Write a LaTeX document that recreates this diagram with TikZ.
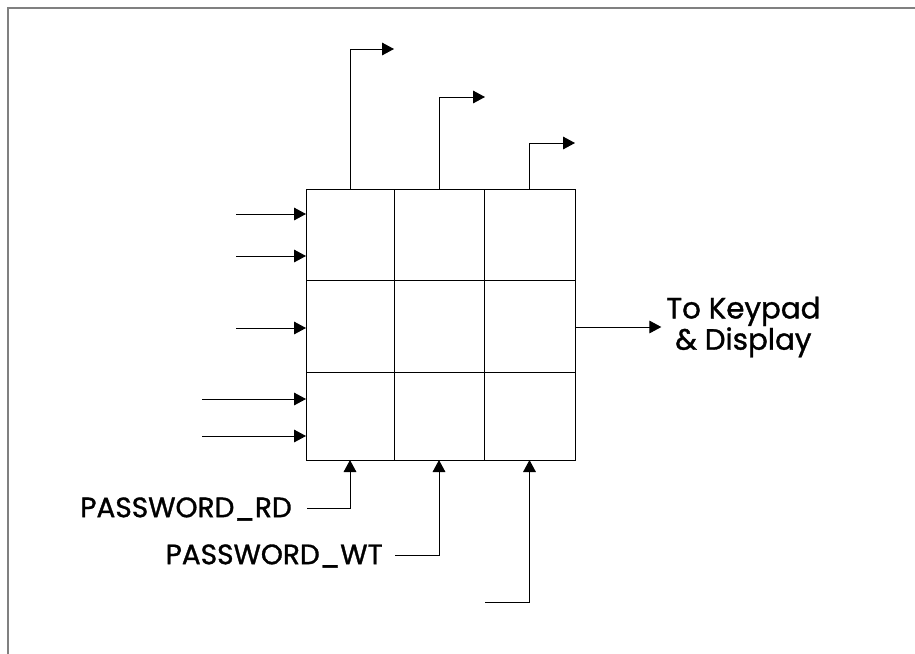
\documentclass[tikz,border=0pt]{standalone}
\usepackage{fontspec}
\setmainfont{Poppins}
\newfontfamily\lblfont[FakeBold=1.2]{Poppins}
\usetikzlibrary{arrows.meta}
\begin{document}
\begin{tikzpicture}[x=0.75pt,y=-0.75pt,
  wire/.style={line width=0.75pt, black},
  sig/.style={wire, -{Triangle[length=9pt,width=9.5pt]}},
  frameline/.style={line width=1.5pt, draw=black!50},
  cell/.style={draw, line width=0.75pt, inner sep=0pt, outer sep=0pt},
  lbl/.style={inner sep=0pt, font=\lblfont\fontsize{21pt}{24pt}\selectfont},
  lblright/.style={inner sep=0pt, align=center, font=\lblfont\fontsize{22pt}{22pt}\selectfont}]
\useasboundingbox (0,0) rectangle (915,654);
\draw[frameline] (7.5,654) -- (7.5,7.5) -- (915,7.5);
% grid cells: columns 306|394|484|575, rows 189|280|372|460
\newcommand{\gridcell}[5]{\node[cell, minimum width={(#4-#2)*0.75pt}, minimum height={(#5-#3)*0.75pt}] (#1) at ({(#2+#4)/2},{(#3+#5)/2}) {};}
\gridcell{c11}{306}{189}{394}{280}
\gridcell{c12}{394}{189}{484}{280}
\gridcell{c13}{484}{189}{575}{280}
\gridcell{c21}{306}{280}{394}{372}
\gridcell{c22}{394}{280}{484}{372}
\gridcell{c23}{484}{280}{575}{372}
\gridcell{c31}{306}{372}{394}{460}
\gridcell{c32}{394}{372}{484}{460}
\gridcell{c33}{484}{372}{575}{460}
% left inputs
\coordinate (i1) at (236,214);
\coordinate (i2) at (236,256);
\coordinate (i3) at (236,328);
\coordinate (i4) at (202,399);
\coordinate (i5) at (202,436);
\draw[sig] (i1) -- (i1 -| c11.west);
\draw[sig] (i2) -- (i2 -| c11.west);
\draw[sig] (i3) -- (i3 -| c21.west);
\draw[sig] (i4) -- (i4 -| c31.west);
\draw[sig] (i5) -- (i5 -| c31.west);
% top outputs
\coordinate (o1) at (394,49);
\coordinate (o2) at (485,97);
\coordinate (o3) at (575,143);
\draw[sig] (c11.north) |- (o1);
\draw[sig] (c12.north) |- (o2);
\draw[sig] (c13.north) |- (o3);
% right output
\node[lblright, anchor=west] (kp) at (666,327) {To Keypad\\\& Display};
\draw[sig] (kp.west -| c23.east) -- ([xshift=-3.5pt]kp.west);
% bottom inputs
\node[lbl, anchor=east] (rd) at (292,509) {PASSWORD\_RD};
\node[lbl, anchor=east] (wt) at (383,556) {PASSWORD\_WT};
\coordinate (b1) at (307,508);
\coordinate (b2) at (395,555);
\coordinate (b3) at (485,602);
\draw[sig] (b1) -| (c31.south);
\draw[sig] (b2) -| (c32.south);
\draw[sig] (b3) -| (c33.south);
\end{tikzpicture}
\end{document}
